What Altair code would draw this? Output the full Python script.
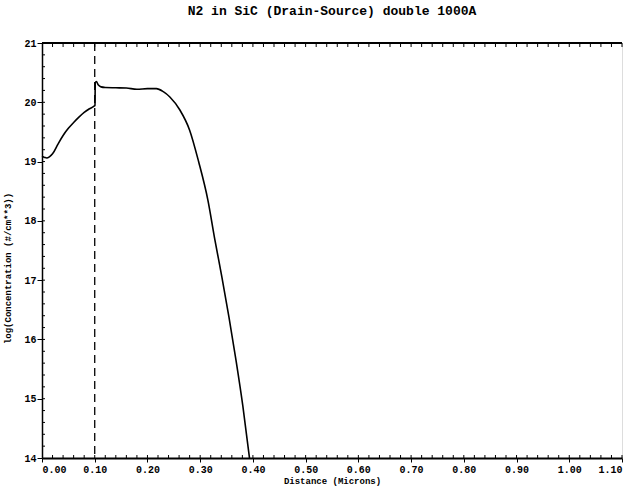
import altair as alt
import pandas as pd

# Profile: depth (microns) vs log10 concentration
depth = [0.0, 0.005, 0.009, 0.014, 0.02, 0.03, 0.04, 0.05, 0.06, 0.07, 0.08,
         0.09, 0.098, 0.1005, 0.101, 0.103, 0.107, 0.112, 0.12, 0.14, 0.16,
         0.18, 0.2, 0.217, 0.23, 0.2425, 0.2615, 0.28, 0.297, 0.3146, 0.3279,
         0.341, 0.3545, 0.3679, 0.381, 0.3935]
logconc = [19.09, 19.07, 19.06, 19.08, 19.13, 19.29, 19.44, 19.56, 19.66, 19.75,
           19.83, 19.89, 19.93, 19.95, 20.33, 20.35, 20.29, 20.26, 20.25, 20.245,
           20.24, 20.22, 20.23, 20.23, 20.18, 20.09, 19.87, 19.53, 19.0, 18.35,
           17.68, 17.06, 16.38, 15.65, 14.87, 14.0]

interface_x = [0.1]
x_ticks = [0.0, 0.1, 0.2, 0.3, 0.4, 0.5, 0.6, 0.7, 0.8, 0.9, 1.0, 1.1]
y_ticks = [14, 15, 16, 17, 18, 19, 20, 21]
x_minor = [round(0.02 * i, 2) for i in range(1, 56)]
y_minor = [round(14 + 0.2 * i, 1) for i in range(1, 35)]

FONT = "Liberation Mono"
W, H = 580, 415

df = pd.DataFrame({"x": depth, "y": logconc})
xs = alt.Scale(domain=[0, 1.1], nice=False, zero=False)
ys = alt.Scale(domain=[14, 21], nice=False, zero=False)

curve = alt.Chart(df).mark_line(color="black", strokeWidth=1.6, interpolate="monotone").encode(
    x=alt.X("x:Q", scale=xs,
            axis=alt.Axis(values=x_ticks, format=".2f", title="Distance (Microns)",
                          labelFont=FONT, labelFontWeight="bold", labelFontSize=10,
                          titleFont=FONT, titleFontWeight="bold", titleFontSize=9,
                          domainColor="black", domainWidth=2, tickColor="black",
                          tickSize=4, labelPadding=2, titlePadding=2, grid=False,
                          labelColor="black", titleColor="black", labelFlush=True)),
    y=alt.Y("y:Q", scale=ys,
            axis=alt.Axis(values=y_ticks, format="d",
                          title="log(Concentration (#/cm**3))",
                          labelFont=FONT, labelFontWeight="bold", labelFontSize=10,
                          titleFont=FONT, titleFontWeight="bold", titleFontSize=9,
                          domainColor="black", domainWidth=1.5, tickColor="black",
                          tickSize=5, labelPadding=1, grid=False, titleX=-30, titleY=225,
                          labelColor="black", titleColor="black", labelFlush=False)),
)

dashed = alt.Chart(pd.DataFrame({"x": interface_x})).mark_rule(
    color="black", strokeWidth=1.3, strokeDash=[8, 5]
).encode(x=alt.X("x:Q", scale=xs), y=alt.value(0), y2=alt.value(H))

top_line = alt.Chart(pd.DataFrame({"x": [0]})).mark_rule(color="black", strokeWidth=2).encode(
    x=alt.value(0), x2=alt.value(W), y=alt.value(0))

dfxm = pd.DataFrame({"x": x_minor})
top_minor = alt.Chart(dfxm).mark_rule(color="black", strokeWidth=1).encode(
    x=alt.X("x:Q", scale=xs), y=alt.value(0), y2=alt.value(4))
bot_minor = alt.Chart(dfxm).mark_rule(color="black", strokeWidth=1).encode(
    x=alt.X("x:Q", scale=xs), y=alt.value(H), y2=alt.value(H - 3))
left_minor = alt.Chart(pd.DataFrame({"y": y_minor})).mark_rule(color="black", strokeWidth=1).encode(
    y=alt.Y("y:Q", scale=ys), x=alt.value(0), x2=alt.value(3))

chart = alt.layer(curve, dashed, top_line, top_minor, bot_minor, left_minor).properties(
    width=W, height=H,
    title=alt.TitleParams("N2 in SiC (Drain-Source) double 1000A", font=FONT,
                          fontSize=13, fontWeight="bold", color="black",
                          anchor="middle", offset=20),
    autosize=alt.AutoSizeParams(type="none"),
    padding={"left": 42, "top": 43, "right": 1, "bottom": 32},
).configure_view(stroke=None).configure(background="white")

chart.save("out.html", embed_options={"renderer": "svg", "actions": False})
